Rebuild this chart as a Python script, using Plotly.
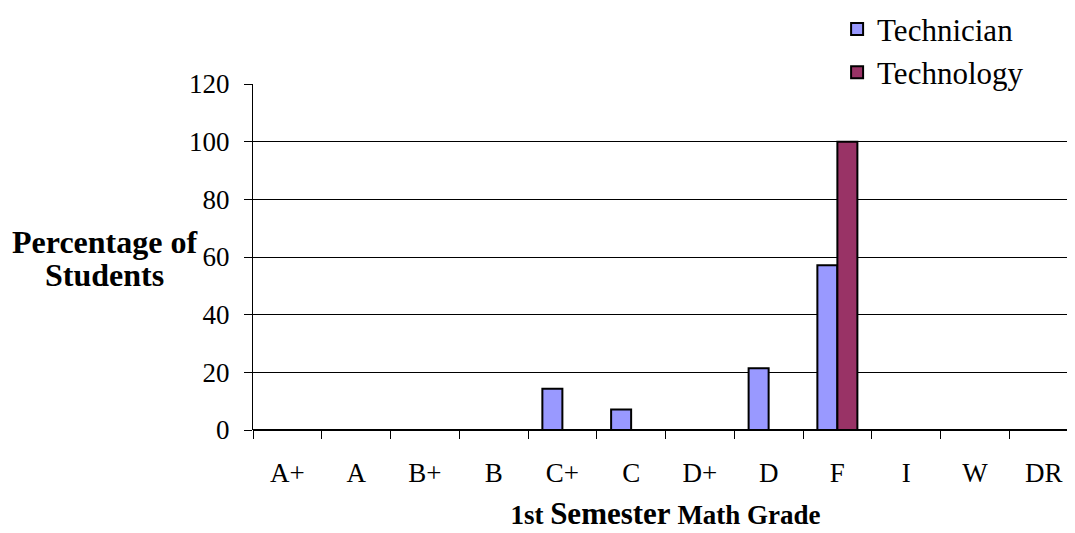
import plotly.graph_objects as go

grades = ["A+", "A", "B+", "B", "C+", "C", "D+", "D", "F", "I", "W", "DR"]
technician = [0, 0, 0, 0, 14.3, 7.1, 0, 21.4, 57.1, 0, 0, 0]
technology = [0, 0, 0, 0, 0, 0, 0, 0, 100, 0, 0, 0]
y_ticks = [0, 20, 40, 60, 80, 100, 120]
y_title_lines = ["Percentage of", "Students"]

serif = "Liberation Serif, Times New Roman, serif"

fig = go.Figure()
fig.add_trace(go.Bar(
    x=grades, y=technician, name="Technician",
    marker=dict(color="#9999ff", line=dict(color="black", width=2))
))
fig.add_trace(go.Bar(
    x=grades, y=technology, name="Technology",
    marker=dict(color="#993366", line=dict(color="black", width=2))
))

# y title drawn as two lines so the line spacing can be kept tight
title_notes = []
for text, ypos in zip(y_title_lines, [0.543, 0.448]):
    title_notes.append(dict(
        text="<b>" + text + "</b>", x=-0.18, y=ypos, xanchor="center",
        yanchor="middle", xref="paper", yref="paper", showarrow=False,
        font=dict(family=serif, size=32, color="black")
    ))

fig.update_layout(
    width=1075, height=533,
    paper_bgcolor="white", plot_bgcolor="white",
    margin=dict(l=245, r=5, t=76, b=111, autoexpand=False),
    barmode="group", bargap=0.418, bargroupgap=0,
    font=dict(family=serif, size=27, color="black"),
    showlegend=True,
    legend=dict(
        x=0.708, xanchor="left", y=1.236, yanchor="top",
        font=dict(family=serif, size=31, color="black"),
        bgcolor="rgba(0,0,0,0)", tracegroupgap=0, itemwidth=30
    ),
    xaxis=dict(
        type="category", tickson="boundaries", ticks="outside",
        ticklen=8, tickcolor="black", showline=False, showgrid=False,
        tickfont=dict(family=serif, size=27), ticklabelstandoff=24,
        automargin=False,
        title=dict(
            text="<b>1st <span style='font-size:31px'>Semester</span> Math Grade</b>",
            font=dict(family=serif, size=27, color="black"), standoff=18
        )
    ),
    yaxis=dict(
        range=[0, 120], tickvals=y_ticks, ticks="outside", ticklen=8,
        tickcolor="black", showline=True, linecolor="black", linewidth=1,
        showgrid=True, gridcolor="black", gridwidth=1,
        zeroline=True, zerolinecolor="black", zerolinewidth=2,
        tickfont=dict(family=serif, size=27), ticklabelstandoff=9,
        automargin=False
    ),
    annotations=title_notes
)

fig.write_html("out.html")
